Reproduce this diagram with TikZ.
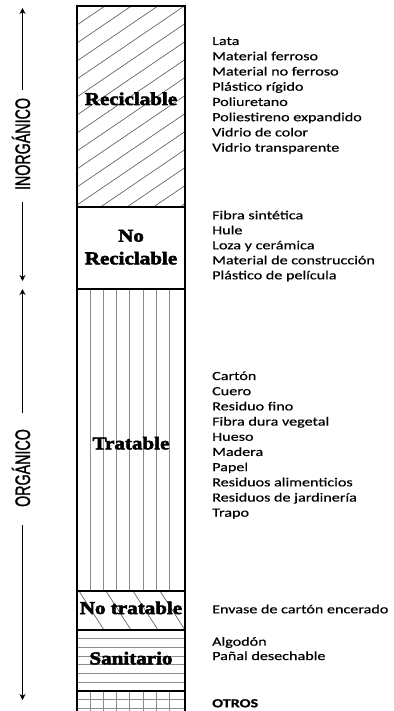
\documentclass[tikz,border=0pt]{standalone}
\usepackage{fontspec}
\setmainfont{Carlito}[FakeStretch=1.3,FakeBold=0.5]
\newfontfamily\boxfont{Liberation Serif}[FakeStretch=1.17,BoldFeatures={FakeBold=3}]
\newfontfamily\sidefont{Liberation Sans}[FakeStretch=0.68,FakeBold=1.2]
\usetikzlibrary{arrows.meta}
\tikzset{
  item/.style={anchor=base west,inner sep=0pt,font=\fontsize{12.4}{15}\selectfont},
  lbl/.style={anchor=base,inner sep=0pt,font=\boxfont\bfseries\fontsize{18}{22}\selectfont},
  side/.style={rotate=90,inner sep=0pt,font=\sidefont\fontsize{21}{24}\selectfont},
  arr/.style={line width=1.8pt,-{Stealth[length=6pt,width=6pt]}},
  border/.style={line width=2pt,black},
  sep/.style={line width=1.6pt,black},
  hatch/.style={line width=0.7pt,black!60},
  vhatch/.style={line width=0.8pt,black!45},
}
\begin{document}
\begin{tikzpicture}[x=1pt,y=-1pt]
\useasboundingbox (0,0) rectangle (393,711);
% hatches
\begin{scope}
  \clip (77,6) rectangle (185,207);
  \foreach \k in {-2,...,15} \draw[hatch] (77,25+18*\k) -- ++(120,-81.6);
\end{scope}
\begin{scope}
  \clip (77,289) rectangle (185,591);
  \foreach \k in {1,...,7} \draw[vhatch] (77+13.2*\k,289) -- (77+13.2*\k,591);
\end{scope}
\begin{scope}
  \clip (77,591) rectangle (185,630);
  \foreach \x in {79,106,133,160} \draw[hatch] (\x,591) -- (\x+25,630);
\end{scope}
\foreach \k in {1,...,6} \draw[vhatch] (77,630+8.7*\k) -- (185,630+8.7*\k);
\foreach \k in {1,...,7} \draw[vhatch] (77+13.2*\k,691) -- (77+13.2*\k,715);
\foreach \y in {699.7,708.4} \draw[vhatch] (77,\y) -- (185,\y);
% column
\draw[border] (77,715) -- (77,6) -- (185,6) -- (185,715);
\foreach \y in {207,289,591,630,691} \draw[sep] (77,\y) -- (185,\y);
% box labels
\node[lbl] (rec) at (131,105) {Reciclable};
\node[lbl] (nor1) at (131,241.7) {No};
\node[lbl] (nor2) at (131,264.3) {Reciclable};
\node[lbl] (tra) at (131,449.3) {Tratable};
\node[lbl] (notra) at (131,614) {No tratable};
\node[lbl] (san) at (131,664.3) {Sanitario};
% side labels and arrows
\node[side] (inorg) at (21,144) {INORGÁNICO};
\node[side] (org) at (21,468) {ORGÁNICO};
\coordinate (i1) at (22.5,90);
\coordinate (t1) at (22.5,8);
\coordinate (i2) at (22.5,202);
\coordinate (t2) at (22.5,281);
\coordinate (o1) at (22.5,413);
\coordinate (t3) at (22.5,289);
\coordinate (o2) at (22.5,525);
\coordinate (t4) at (22.5,700);
\draw[arr] (i1) -- (t1);
\draw[arr] (i2) -- (t2);
\draw[arr] (o1) -- (t3);
\draw[arr] (o2) -- (t4);
% item lists
\foreach \t [count=\i from 0] in {Lata,Material ferroso,Material no ferroso,Plástico rígido,Poliuretano,Poliestireno expandido,Vidrio de color,Vidrio transparente}
  \node[item] (a\i) at (212,45+15.24*\i) {\t};
\foreach \t [count=\i from 0] in {Fibra sintética,Hule,Loza y cerámica,Material de construcción,Plástico de película}
  \node[item] (b\i) at (212,219.3+15*\i) {\t};
\foreach \t [count=\i from 0] in {Cartón,Cuero,Residuo fino,Fibra dura vegetal,Hueso,Madera,Papel,Residuos alimenticios,Residuos de jardinería,Trapo}
  \node[item] (c\i) at (212,380+15.19*\i) {\t};
\node[item] (d0) at (212,613.3) {Envase de cartón encerado};
\node[item] (e0) at (212,645.7) {Algodón};
\node[item] (e1) at (212,660) {Pañal desechable};
\node[item,font=\fontsize{12.4}{15}\selectfont\bfseries] (f0) at (212,707.3) {OTROS};
\end{tikzpicture}
\end{document}
